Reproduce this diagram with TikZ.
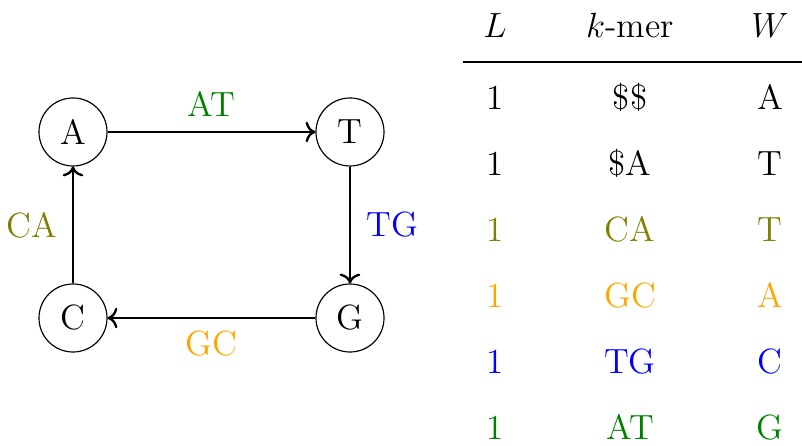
\documentclass[tikz,border=0pt]{standalone}
\usetikzlibrary{arrows.meta}
\definecolor{cgreen}{rgb}{0,0.5,0}
\definecolor{colive}{rgb}{0.5,0.5,0}
\definecolor{corange}{rgb}{1,0.65,0}
\definecolor{cblue}{rgb}{0,0,1}
\tikzset{
  big/.style={font=\fontsize{12}{14.5}\selectfont},
  vert/.style={big, circle, draw, line width=0.4pt, minimum size=23.3pt, inner sep=0pt},
  edge/.style={->, line width=0.8pt},
  cell/.style={big, anchor=base, inner sep=0pt},
  lab/.style={big, inner sep=0pt},
}
\begin{document}
\begin{tikzpicture}[x=0.3425pt,y=-0.3425pt]
\useasboundingbox (0,0) rectangle (802,446);
\node[vert] (A) at (73,132) {A};
\node[vert] (T) at (350,132) {T};
\node[vert] (C) at (73,318) {C};
\node[vert] (G) at (350,318) {G};
\draw[edge] (A) -- (T) node[midway, above=4.8pt, lab, text=cgreen] (lAT) {AT};
\draw[edge] (T) -- (G) node[midway, right=5.3pt, lab, text=cblue] (lTG) {TG};
\draw[edge] (G) -- (C) node[midway, below=4pt, lab, text=corange] (lGC) {GC};
\draw[edge] (C) -- (A) node[midway, left=5pt, lab, text=colive] (lCA) {CA};
% table
\node[cell] (hL) at (495,38) {$L$};
\node[cell] (hK) at (630,38) {$k$-mer};
\node[cell] (hW) at (770,38) {$W$};
\coordinate (r1) at (463,62);
\coordinate (r2) at (802,62);
\draw[line width=1pt] (r1) -- (r2);
\foreach \y/\k/\w/\c [count=\i] in {110/\$\$/A/black, 176/\$A/T/black, 242/CA/T/colive, 308/GC/A/corange, 374/TG/C/cblue, 440/AT/G/cgreen}{
  \node[cell, text=\c] (L\i) at (495,\y) {1};
  \node[cell, text=\c] (K\i) at (630,\y) {\k};
  \node[cell, text=\c] (W\i) at (770,\y) {\w};
}
\end{tikzpicture}
\end{document}
